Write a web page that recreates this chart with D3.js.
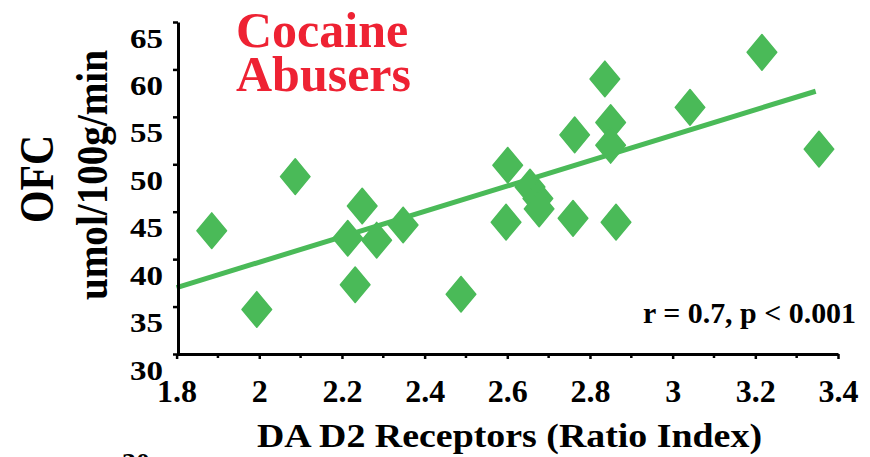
<!DOCTYPE html>
<html>
<head>
<meta charset="utf-8">
<script src="https://cdn.jsdelivr.net/npm/d3@7"></script>
<style>
  html, body { margin: 0; padding: 0; background: #ffffff; }
  svg { display: block; }
  text { font-family: "Liberation Serif", "Times New Roman", serif; font-weight: bold; }
</style>
</head>
<body>
<svg id="chart" width="870" height="457"></svg>
<script>
// ---- Data ----
const d2Ratio = [1.885, 1.994, 2.087, 2.214, 2.249, 2.232, 2.284, 2.348, 2.488, 2.601, 2.597,
                 2.655, 2.674, 2.677, 2.759, 2.763, 2.836, 2.850, 2.850, 2.863, 3.042, 3.216, 3.354];
const ofcMetab = [43.0, 34.7, 48.7, 42.2, 45.6, 37.3, 42.0, 43.6, 36.3, 49.9, 43.9,
                  47.6, 46.4, 45.3, 44.3, 53.1, 59.0, 54.4, 52.0, 43.9, 56.0, 61.8, 51.6];
const fitX = [1.8, 3.346];
const fitY = [37.0, 57.7];
const xTicks = [1.8, 2.0, 2.2, 2.4, 2.6, 2.8, 3.0, 3.2, 3.4];
const xTickLabels = ["1.8", "2", "2.2", "2.4", "2.6", "2.8", "3", "3.2", "3.4"];
const xMinorTicks = [1.9, 2.1, 2.3, 2.5, 2.7, 2.9, 3.1, 3.3];
const yTicks = [30, 35, 40, 45, 50, 55, 60, 65];
const titleLines = ["Cocaine", "Abusers"];
const yTitle = "OFC";
const yUnits = "umol/100g/min";
const xTitle = "DA D2 Receptors (Ratio Index)";
const statText = "r = 0.7, p < 0.001";
const strayLabel = "30";

// ---- Styles ----
const green = "#4aba58";
const red = "#ee2233";

const svg = d3.select("#chart");
const x = d3.scaleLinear().domain([1.8, 3.4]).range([176.6, 838]);
const y = d3.scaleLinear().domain([30, 65]).range([354, 22]);

// Regression line
svg.append("line")
  .attr("x1", x(fitX[0])).attr("y1", y(fitY[0]))
  .attr("x2", x(fitX[1])).attr("y2", y(fitY[1]))
  .attr("stroke", green).attr("stroke-width", 5);

// Diamonds
const pts = d2Ratio.map((v, i) => ({ x: v, y: ofcMetab[i] }));
const hw = 14.8, hh = 17.8;
svg.append("g").selectAll("path").data(pts).join("path")
  .attr("d", d => {
    const cx = x(d.x), cy = y(d.y);
    return `M${cx},${cy - hh}L${cx + hw},${cy}L${cx},${cy + hh}L${cx - hw},${cy}Z`;
  })
  .attr("fill", green).attr("stroke", green)
  .attr("stroke-width", 1.5).attr("stroke-linejoin", "round");

// X axis
const xAxis = svg.append("g").attr("transform", `translate(0,${y(30)})`)
  .call(d3.axisBottom(x).tickValues(xTicks)
    .tickFormat((d, i) => xTickLabels[i]).tickSize(5).tickSizeOuter(0));
xAxis.select(".domain").attr("stroke", "#000").attr("stroke-width", 3);
xAxis.selectAll(".tick line").attr("stroke", "#000").attr("stroke-width", 2.5);
xAxis.selectAll(".tick text").attr("y", 48).attr("dy", 0)
  .attr("font-size", 32).attr("fill", "#000")
  .style("font-family", "'Liberation Serif', serif").style("font-weight", "bold");
xAxis.selectAll(".minor").data(xMinorTicks).join("line").attr("class", "minor")
  .attr("x1", d => x(d)).attr("x2", d => x(d)).attr("y1", 0).attr("y2", 4)
  .attr("stroke", "#000").attr("stroke-width", 2.5);

// Y axis
const yAxis = svg.append("g").attr("transform", `translate(${x(1.8) + 1.4},0)`)
  .call(d3.axisLeft(y).tickValues(yTicks).tickSize(5).tickSizeOuter(0));
yAxis.select(".domain").attr("stroke", "#000").attr("stroke-width", 3);
yAxis.selectAll(".tick line").attr("stroke", "#000").attr("stroke-width", 2.5);
yAxis.selectAll(".tick text").attr("x", -15).attr("y", 25).attr("dy", 0)
  .attr("font-size", 28).attr("fill", "#000")
  .attr("textLength", 33).attr("lengthAdjust", "spacingAndGlyphs")
  .style("font-family", "'Liberation Serif', serif").style("font-weight", "bold");

// Title (one text element, two lines)
const title = svg.append("text").attr("x", 236).attr("y", 47)
  .attr("font-size", 50).attr("fill", red);
title.selectAll("tspan").data(titleLines).join("tspan")
  .attr("x", 236).attr("dy", (d, i) => i === 0 ? 0 : 44).text(d => d);

// Y titles
svg.append("text").attr("transform", "translate(53,179) rotate(-90)")
  .attr("text-anchor", "middle").attr("font-size", 48)
  .attr("textLength", 88).attr("lengthAdjust", "spacingAndGlyphs")
  .attr("fill", "#000").text(yTitle);
svg.append("text").attr("transform", "translate(107,175) rotate(-90)")
  .attr("text-anchor", "middle").attr("font-size", 44)
  .attr("textLength", 250).attr("lengthAdjust", "spacingAndGlyphs")
  .attr("fill", "#000").text(yUnits);

// X title
svg.append("text").attr("x", 257).attr("y", 447)
  .attr("font-size", 34).attr("textLength", 505).attr("lengthAdjust", "spacingAndGlyphs")
  .attr("fill", "#000").text(xTitle);

// Statistic
svg.append("text").attr("x", 856).attr("y", 323).attr("text-anchor", "end")
  .attr("font-size", 30).attr("textLength", 213).attr("lengthAdjust", "spacingAndGlyphs")
  .attr("fill", "#000").text(statText);

// Stray cropped label at the bottom edge (as in the reference)
svg.append("text").attr("x", 136).attr("y", 472).attr("text-anchor", "middle")
  .attr("font-size", 28).attr("fill", "#000").text(strayLabel);
</script>
</body>
</html>
